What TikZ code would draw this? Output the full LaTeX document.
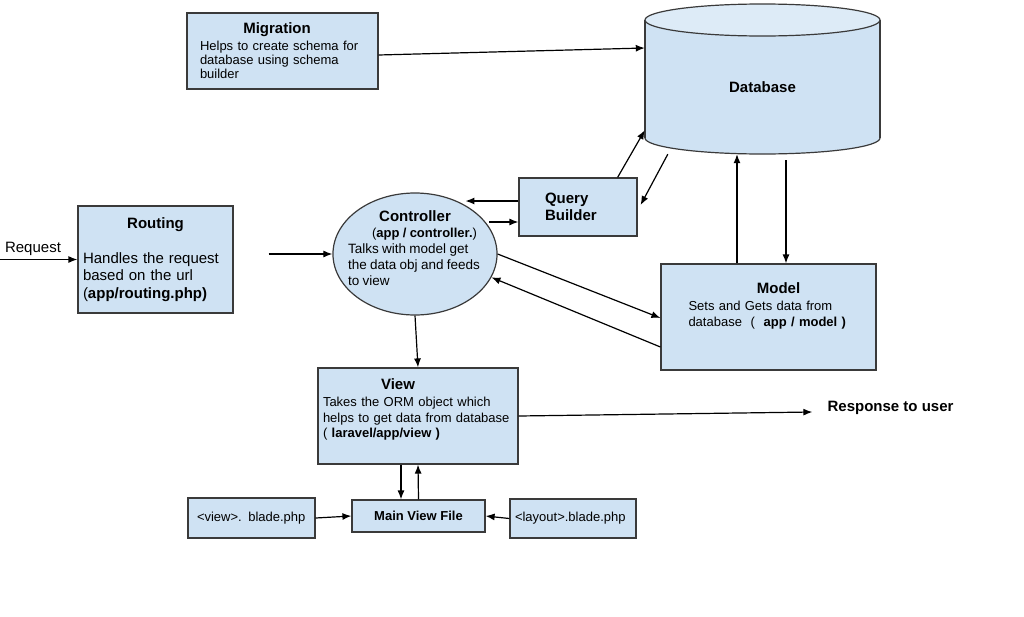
\documentclass[tikz,border=0pt]{standalone}
\usepackage{fontspec}
\setmainfont{Liberation Sans}
\usetikzlibrary{arrows.meta,shapes.geometric}
\definecolor{boxfill}{HTML}{CFE2F3}
\definecolor{boxline}{HTML}{3A3A3A}
\newcommand{\ttl}{\fontsize{15}{17}\selectfont\bfseries}
\newcommand{\txt}{\fontsize{13}{14}\selectfont}
\tikzset{
  box/.style={shape=rectangle,draw=boxline,fill=boxfill,line width=1.2pt,inner sep=0pt},
  conn/.style={draw=black,line width=1.2pt,-{Latex[length=9pt,width=7pt]}},
}
\begin{document}
\begin{tikzpicture}[x=1pt,y=-1pt]
\useasboundingbox (0,0) rectangle (1024,616);

\fill[boxfill] (762.5,138) ellipse (117.5 and 16);
\draw[boxline,line width=1.2pt] (762.5,138) ellipse (117.5 and 16);
\fill[boxfill] (645,20) rectangle (880,138);
\draw[boxline,line width=1.2pt] (645,20) -- (645,138);
\draw[boxline,line width=1.2pt] (880,20) -- (880,138);
\draw[boxline,fill=boxfill!70!white,line width=1.2pt] (762.5,20) ellipse (117.5 and 16);

\node[minimum width=235pt,minimum height=134pt,font=\ttl] (db) at (762.5,87) {Database};
\node[box,minimum width=191pt,minimum height=76pt,text width=165pt,align=left,font=\txt] (mig) at (282.5,51)
  {{\centering\ttl\hspace*{-11pt}Migration\par}\vspace{3pt}Helps to create schema for\\ database using schema\\ builder};
\node[box,minimum width=155pt,minimum height=107pt,text width=145pt,align=left,font=\fontsize{15}{17.5}\selectfont] (rout) at (155.5,259.5)
  {{\centering\ttl Routing\par}\vspace{17pt}Handles the request\\ based on the url\\ (\textbf{app/routing.php)}};
\node[font=\fontsize{15}{17}\selectfont,inner sep=0pt] (req) at (33,249) {Request};
\coordinate (reqin) at (0,259.5);
\node[shape=ellipse,draw=boxline,fill=boxfill,line width=1.2pt,minimum width=164pt,minimum height=122pt,inner xsep=-9pt,inner ysep=-3pt,text width=134pt,align=left] (ctrl) at (415,254)
  {{\centering\ttl Controller\par\normalfont\fontsize{13}{16}\selectfont\hspace*{19pt}(\textbf{app / controller.})\par}\fontsize{13.5}{16}\selectfont Talks with model get\\ the data obj and feeds\\ to view\par\rule{0pt}{9pt}};
\node[box,minimum width=118pt,minimum height=58pt,text width=66pt,align=left,font=\ttl] (qb) at (578,207) {Query\\Builder};
\node[box,minimum width=215pt,minimum height=106pt,text width=160pt,align=left,font=\fontsize{13}{16.5}\selectfont] (model) at (768.5,317)
  {{\centering\ttl\hspace*{20pt}Model\par}Sets and Gets data from\\ database\ \ (\ \ \textbf{app / model )}\par\rule{0pt}{21pt}};
\node[box,minimum width=200pt,minimum height=96pt,text width=190pt,align=left,font=\fontsize{13}{15.5}\selectfont] (view) at (418,416)
  {{\centering\ttl\hspace*{-40pt}View\par}\vspace{2pt}Takes the ORM object which\\ helps to get data from database\\ (\ \textbf{laravel/app/view )}\par\rule{0pt}{12pt}};
\node[box,minimum width=133pt,minimum height=32pt,font=\txt\bfseries] (main) at (418.5,516) {Main View File};
\node[box,minimum width=127pt,minimum height=40pt,text width=109pt,align=left,font=\txt] (vblade) at (251.5,518) {<view>. blade.php};
\node[box,minimum width=126pt,minimum height=39pt,text width=116pt,align=left,font=\txt] (lblade) at (573,518.5) {<layout>.blade.php};
\node[font=\ttl,inner sep=0pt] (resp) at (890.5,408) {Response to user};

\draw[conn] ([yshift=-4pt]mig.east) -- ([yshift=39pt]db.west);
\draw[conn] ([xshift=-20pt]qb.north east) -- ([yshift=24pt]db.south west);
\draw[conn] ([xshift=23pt]db.south west) -- ([xshift=3pt,yshift=2pt]qb.east);
\draw[conn] ([yshift=6pt]qb.west) -- ([yshift=6pt]qb.west -| ctrl.44);
\draw[conn] ([yshift=-15pt]qb.west -| ctrl.20) -- ([yshift=-15pt]qb.west);
\draw[conn] (reqin) -- (rout.west);
\draw[conn,shorten <=35pt] (rout.east |- ctrl.west) -- (ctrl.west);
\draw[conn] (ctrl.east) -- ([yshift=-1pt]model.west);
\draw[conn] ([yshift=-30pt]model.west) -- (ctrl.-17);
\draw[conn] ([xshift=-31.5pt]model.north) -- ([xshift=-31.5pt]model.north |- db.south);
\draw[conn,shorten <=6pt] ([xshift=17.5pt]model.north |- db.south) -- ([xshift=17.5pt]model.north);
\draw[conn] (ctrl.south) -- (view.north);
\draw[conn] ([xshift=-17pt]view.south) -- ([xshift=-17.5pt]main.north);
\draw[conn] (main.north) -- (view.south);
\draw[conn] (vblade.east) -- (main.west);
\draw[conn] (lblade.west) -- (main.east);
\draw[conn] (view.east) -- ([xshift=-15pt,yshift=-4pt]resp.west);
\end{tikzpicture}
\end{document}
